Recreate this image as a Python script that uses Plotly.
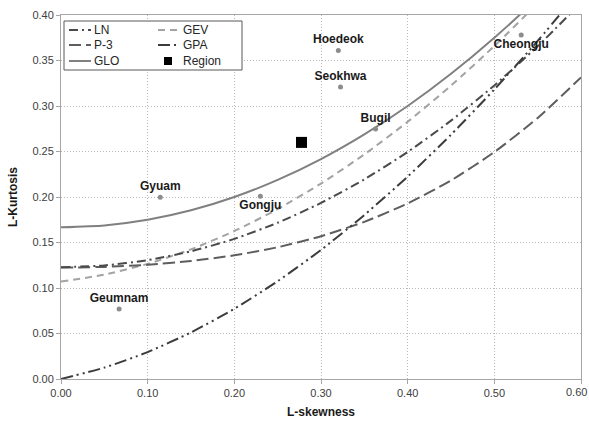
import plotly.graph_objects as go

# L-skewness grid for theoretical curves
tau3 = [0.00, 0.05, 0.10, 0.15, 0.20, 0.25, 0.30, 0.35, 0.40, 0.45, 0.50, 0.55, 0.60]
ln_t4 = [0.1228, 0.1248, 0.1306, 0.1403, 0.1540, 0.1717, 0.1935, 0.2194, 0.2495, 0.2839, 0.3226, 0.3657, 0.4134]
p3_t4 = [0.1224, 0.1232, 0.1255, 0.1297, 0.1359, 0.1448, 0.1569, 0.1727, 0.1929, 0.2182, 0.2494, 0.2869, 0.3314]
glo_t4 = [0.1667, 0.1688, 0.1750, 0.1854, 0.2000, 0.2188, 0.2417, 0.2688, 0.3000, 0.3354, 0.3750, 0.4188, 0.4667]
gev_t4 = [0.1070, 0.1147, 0.1265, 0.1425, 0.1626, 0.1867, 0.2148, 0.2468, 0.2827, 0.3224, 0.3659, 0.4130, 0.4638]
gpa_t4 = [0.0000, 0.0125, 0.0296, 0.0512, 0.0772, 0.1075, 0.1418, 0.1802, 0.2224, 0.2685, 0.3182, 0.3715, 0.4284]

# Stations
stations = ["Hoedeok", "Seokhwa", "Bugil", "Cheongju", "Gyuam", "Gongju", "Geumnam"]
st_skew = [0.320, 0.3225, 0.363, 0.531, 0.1145, 0.230, 0.067]
st_kurt = [0.361, 0.321, 0.2747, 0.378, 0.1996, 0.2007, 0.0769]
st_pos = ["top center", "top center", "top center", "bottom center", "top center", "bottom center", "top center"]

region_skew = [0.2775]
region_kurt = [0.260]

x_ticks = [0.0, 0.1, 0.2, 0.3, 0.4, 0.5, 0.6]
x_ticktext = ["0.00", "0.10", "0.20", "0.30", "0.40", "0.50", ""]
y_ticks = [0.0, 0.05, 0.10, 0.15, 0.20, 0.25, 0.30, 0.35, 0.40]

FONT = "Liberation Sans"

styles = {
    "LN":  dict(color="#4a4a4a", dash="9px,4px,2px,4px", width=2),
    "P-3": dict(color="#5e5e5e", dash="12px,5px", width=2),
    "GLO": dict(color="#808080", dash="solid", width=2),
    "GEV": dict(color="#a3a3a3", dash="7px,5px", width=2),
    "GPA": dict(color="#3c3c3c", dash="12px,4px,2px,4px,2px,4px", width=2),
}

fig = go.Figure()
for name, ys in [("GLO", glo_t4), ("GEV", gev_t4), ("P-3", p3_t4), ("LN", ln_t4), ("GPA", gpa_t4)]:
    fig.add_trace(go.Scatter(x=tau3, y=ys, mode="lines", name=name,
                             line=dict(shape="spline", smoothing=0.6, **styles[name]),
                             showlegend=False))

fig.add_trace(go.Scatter(x=st_skew, y=st_kurt, mode="markers+text", text=stations,
                         textposition=st_pos,
                         textfont=dict(family=FONT, size=12, color="#1a1a1a", weight="bold"),
                         marker=dict(color="#8c8c8c", size=5), showlegend=False, cliponaxis=False))
fig.add_trace(go.Scatter(x=region_skew, y=region_kurt, mode="markers",
                         marker=dict(color="black", size=11, symbol="square"), showlegend=False))

# manual legend in paper coordinates
L, R, T, B = 61, 581, 15, 379
def px(x): return (x - L) / (R - L)
def py(y): return (B - y) / (B - T)

shapes = [dict(type="rect", xref="paper", yref="paper", x0=px(64), x1=px(242), y0=py(70), y1=py(21),
               line=dict(color="#595959", width=1), fillcolor="white", layer="above")]
annotations = []
legend_items = [("LN", 69, 30), ("GEV", 158, 30), ("P-3", 69, 45), ("GPA", 158, 45), ("GLO", 69, 61)]
for name, x0, y in legend_items:
    st = styles[name]
    shapes.append(dict(type="line", xref="paper", yref="paper", x0=px(x0), x1=px(x0 + 22),
                       y0=py(y), y1=py(y), line=dict(color=st["color"], width=2, dash=st["dash"]), layer="above"))
    annotations.append(dict(xref="paper", yref="paper", x=px(x0 + 23), y=py(y), text=name,
                            showarrow=False, xanchor="left", yanchor="middle",
                            font=dict(family=FONT, size=12, color="#262626")))
shapes.append(dict(type="rect", xref="paper", yref="paper", x0=px(164), x1=px(172), y0=py(65), y1=py(57),
                   line=dict(color="black", width=0), fillcolor="black", layer="above"))
annotations.append(dict(xref="paper", yref="paper", x=px(181), y=py(61), text="Region",
                        showarrow=False, xanchor="left", yanchor="middle",
                        font=dict(family=FONT, size=12, color="#262626")))
# last x tick label, kept inside the page
annotations.append(dict(xref="x", yref="paper", x=x_ticks[-1], y=py(392), text="0.60",
                        showarrow=False, xanchor="right", yanchor="middle", xshift=8,
                        font=dict(family=FONT, size=11, color="#404040")))
# axis titles
annotations.append(dict(xref="paper", yref="paper", x=px(321), y=py(412), text="L-skewness",
                        showarrow=False, xanchor="center", yanchor="middle",
                        font=dict(family=FONT, size=12, color="#1a1a1a", weight="bold")))
annotations.append(dict(xref="paper", yref="paper", x=px(13), y=py(197), text="L-Kurtosis",
                        showarrow=False, xanchor="center", yanchor="middle", textangle=-90,
                        font=dict(family=FONT, size=12, color="#1a1a1a", weight="bold")))

fig.update_layout(
    width=589, height=423,
    margin=dict(l=61, r=8, t=15, b=44, autoexpand=False),
    paper_bgcolor="white", plot_bgcolor="white",
    shapes=shapes, annotations=annotations,
    font=dict(family=FONT, size=11, color="#404040"),
    xaxis=dict(range=[0, 0.6], tickvals=x_ticks, ticktext=x_ticktext, automargin=False,
               showgrid=True, gridcolor="#b8b8b8", griddash="1px,2px", gridwidth=1,
               showline=True, linecolor="#a6a6a6", mirror=True, linewidth=1,
               ticks="outside", ticklen=4, tickcolor="#a6a6a6", zeroline=False),
    yaxis=dict(range=[0, 0.4], tickvals=y_ticks, tickformat=".2f", automargin=False,
               showgrid=True, gridcolor="#b8b8b8", griddash="1px,2px", gridwidth=1,
               showline=True, linecolor="#a6a6a6", mirror=True, linewidth=1,
               ticks="outside", ticklen=4, tickcolor="#a6a6a6", zeroline=False),
)

fig.write_html("out.html", config={"displayModeBar": False},
               post_script="document.body.style.margin='0';document.body.style.overflow='hidden';")
